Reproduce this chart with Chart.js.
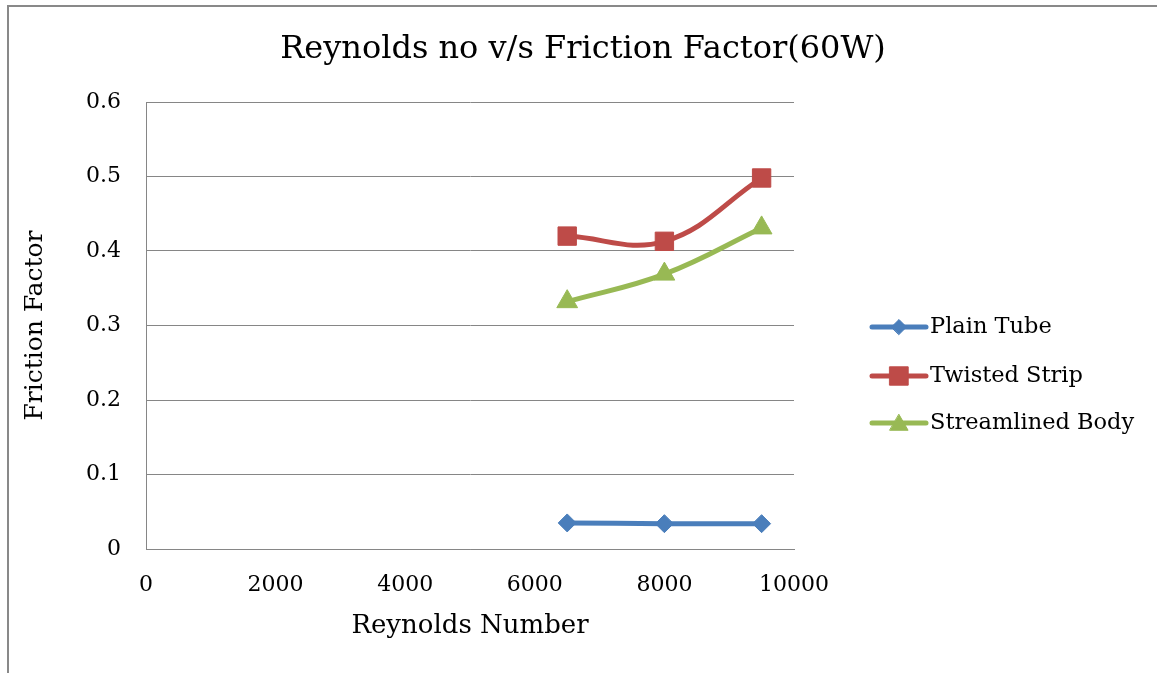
<!DOCTYPE html>
<html>
<head>
<meta charset="utf-8">
<script src="https://cdn.jsdelivr.net/npm/chart.js@4/dist/chart.umd.min.js"></script>
<style>
  html, body { margin: 0; padding: 0; background: #fff; }
  #wrap { position: relative; width: 1157px; height: 673px; overflow: hidden; }
  #frame { position: absolute; left: 7px; top: 5px; width: 1200px; height: 700px;
           border-left: 2px solid #898989; border-top: 2px solid #898989; }
  canvas { position: absolute; left: 0; top: 0; }
</style>
</head>
<body>
<div id="wrap">
  <div id="frame"></div>
  <canvas id="c" width="1157" height="673"></canvas>
</div>
<script>
// Reynolds number at each measurement
const reynolds = [6500, 8000, 9500];
// Friction factor per tube insert
const plainTube = [0.035, 0.034, 0.034];
const twistedStrip = [0.420, 0.413, 0.498];
const streamlinedBody = [0.332, 0.369, 0.431];

const yTicks = [0, 0.1, 0.2, 0.3, 0.4, 0.5, 0.6];
const xTicks = [0, 2000, 4000, 6000, 8000, 10000];

const FONT = '"DejaVu Serif", serif';
const GRID = '#868686';

const seriesDefs = [
  { label: 'Plain Tube', data: plainTube, color: '#4A7EBB', point: 'rectRot', radius: 9, legendRadius: 7.5 },
  { label: 'Twisted Strip', data: twistedStrip, color: '#BE4B48', point: 'rect', radius: 13, legendRadius: 13 },
  { label: 'Streamlined Body', data: streamlinedBody, color: '#98B954', point: 'triangle', radius: 12, legendRadius: 10.5 }
];

const datasets = seriesDefs.map(s => ({
  label: s.label,
  data: reynolds.map((x, i) => ({ x: x, y: s.data[i] })),
  borderColor: s.color,
  backgroundColor: s.color,
  borderWidth: 5,
  pointStyle: s.point,
  pointRadius: s.radius,
  pointHoverRadius: s.radius,
  pointBackgroundColor: s.color,
  pointBorderColor: s.color,
  pointBorderWidth: 1,
  tension: 0.4,
  borderCapStyle: 'round',
  borderJoinStyle: 'round'
}));

// Chart title and right-hand legend, drawn as canvas text
const decorations = {
  id: 'decorations',
  afterDraw(chart) {
    const ctx = chart.ctx;
    ctx.save();
    ctx.fillStyle = '#000';
    ctx.font = '32px ' + FONT;
    ctx.textAlign = 'center';
    ctx.textBaseline = 'middle';
    ctx.fillText('Reynolds no v/s Friction Factor(60W)', 583, 50);

    const ys = [327, 376, 423];
    seriesDefs.forEach((s, i) => {
      const y = ys[i];
      ctx.strokeStyle = s.color;
      ctx.lineWidth = 5;
      ctx.lineCap = 'round';
      ctx.beginPath();
      ctx.moveTo(872, y);
      ctx.lineTo(926, y);
      ctx.stroke();
      ctx.fillStyle = s.color;
      ctx.lineWidth = 1;
      Chart.helpers.drawPoint(ctx, {
        pointStyle: s.point, radius: s.legendRadius, rotation: 0, borderWidth: 1
      }, 899, s.point === 'triangle' ? y + 2 : y);
      ctx.fillStyle = '#000';
      ctx.font = '22.5px ' + FONT;
      ctx.textAlign = 'left';
      ctx.fillText(s.label, 930, y);
    });
    ctx.restore();
  }
};

new Chart(document.getElementById('c'), {
  type: 'line',
  data: { datasets },
  plugins: [decorations],
  options: {
    responsive: false,
    animation: false,
    events: [],
    layout: { padding: { left: 0, top: 102, right: 363, bottom: 31 } },
    plugins: { legend: { display: false }, title: { display: false }, tooltip: { enabled: false } },
    scales: {
      x: {
        type: 'linear',
        min: 0, max: 10000,
        afterBuildTicks: s => { s.ticks = xTicks.map(v => ({ value: v })); },
        afterFit: s => { s.height = 93; },
        grid: { display: false, drawTicks: false },
        border: { display: true, color: GRID, width: 1 },
        ticks: { color: '#000', font: { family: FONT, size: 22 }, padding: 23, maxRotation: 0,
                 callback: v => String(v) },
        title: { display: true, text: 'Reynolds Number', color: '#000',
                 font: { family: FONT, size: 26 }, padding: { top: 0, bottom: 0 } }
      },
      y: {
        min: 0, max: 0.6,
        afterBuildTicks: s => { s.ticks = yTicks.map(v => ({ value: v })); },
        afterFit: s => { s.width = 146; },
        grid: { color: GRID, lineWidth: 1, drawTicks: false },
        border: { display: true, color: GRID, width: 1 },
        ticks: { color: '#000', font: { family: FONT, size: 22 }, padding: 25,
                 callback: v => String(v) },
        title: { display: true, text: 'Friction Factor', color: '#000',
                 font: { family: FONT, size: 25 }, padding: { top: 20, bottom: 0 } }
      }
    }
  }
});
</script>
</body>
</html>
